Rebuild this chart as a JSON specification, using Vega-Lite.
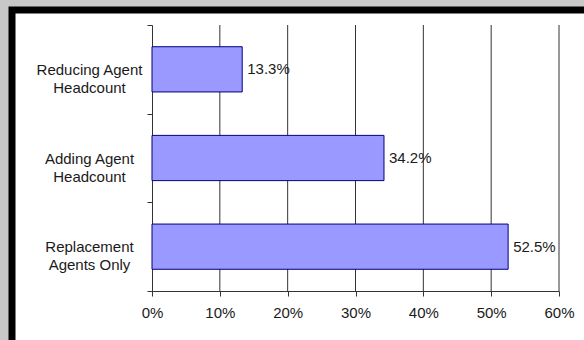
{
  "$schema": "https://vega.github.io/schema/vega-lite/v6.json",
  "width": 572,
  "height": 330,
  "autosize": {"type": "none"},
  "padding": {"left": 12, "top": 10, "right": 0, "bottom": 0},
  "background": "#c8c8c8",
  "config": {
    "view": {"fill": "white", "stroke": "black", "strokeWidth": 7, "strokeDash": [572, 902, 330, 0], "strokeCap": "square"},
    "font": "Liberation Sans",
    "axis": {"labelFont": "Liberation Sans", "labelFontSize": 15, "labelColor": "#1a1a1a", "title": null, "tickColor": "#333", "domainColor": "#333", "tickSize": 5, "grid": false}
  },
  "data": {
    "values": [
      {"category": "Reducing Agent Headcount", "share": 0.133},
      {"category": "Adding Agent Headcount", "share": 0.342},
      {"category": "Replacement Agents Only", "share": 0.525}
    ]
  },
  "resolve": {"scale": {"y": "independent"}, "axis": {"y": "independent"}},
  "layer": [
    {
      "data": {"values": [{"gridline": 0.1}, {"gridline": 0.2}, {"gridline": 0.3}, {"gridline": 0.4}, {"gridline": 0.5}, {"gridline": 0.6}]},
      "mark": {"type": "rule", "color": "#333", "strokeWidth": 1},
      "encoding": {
        "x": {"field": "gridline", "type": "quantitative", "scale": {"domain": [0, 0.6], "range": [140, 547], "nice": false}},
        "y": {"datum": 0, "type": "quantitative", "scale": {"domain": [0, 1], "range": [281, 15], "nice": false, "zero": false}, "axis": null},
        "y2": {"datum": 1}
      }
    },
    {
      "layer": [
        {"mark": {"type": "bar", "height": {"band": 0.51}, "fill": "#9999ff", "stroke": "#000080", "strokeWidth": 1}},
        {
          "mark": {"type": "text", "align": "left", "baseline": "middle", "dx": 5, "fontSize": 15, "fill": "#1a1a1a"},
          "encoding": {"text": {"field": "share", "type": "quantitative", "format": ".1%"}}
        }
      ],
      "encoding": {
        "y": {
          "field": "category",
          "type": "nominal",
          "sort": null,
          "scale": {"range": [15, 281], "paddingInner": 0, "paddingOuter": 0},
          "axis": {
            "title": null,
            "orient": "left",
            "offset": -140,
            "tickBand": "extent",
            "labelAlign": "center",
            "labelBaseline": "middle",
            "labelPadding": 58,
            "labelLineHeight": 18,
            "labelExpr": "datum.value === 'Reducing Agent Headcount' ? ['Reducing Agent', 'Headcount'] : datum.value === 'Adding Agent Headcount' ? ['Adding Agent', 'Headcount'] : datum.value === 'Replacement Agents Only' ? ['Replacement', 'Agents Only'] : ''",
            "encode": {
              "labels": {
                "update": {
                  "dx": {"signal": "datum.value === 'Reducing Agent Headcount' ? -5 : datum.value === 'Replacement Agents Only' ? 4 : 2"}
                }
              }
            }
          }
        },
        "x": {
          "field": "share",
          "type": "quantitative",
          "scale": {"domain": [0, 0.6], "range": [140, 547], "nice": false},
          "axis": {
            "title": null,
            "values": [0, 0.1, 0.2, 0.3, 0.4, 0.5, 0.6],
            "format": ".0%",
            "offset": -49,
            "labelPadding": 9,
            "labelFlush": false,
            "labelOverlap": false
          }
        }
      }
    }
  ]
}
